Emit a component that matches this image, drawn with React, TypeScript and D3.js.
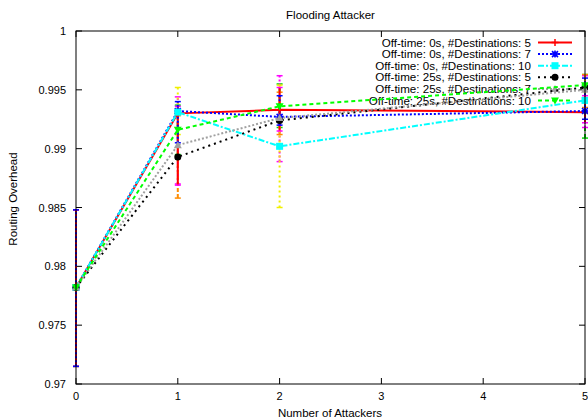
import React from "react";
import * as d3 from "d3";

const xValues = [0, 1, 2, 5];
const seriesNames = [
  "Off-time: 0s, #Destinations: 5",
  "Off-time: 0s, #Destinations: 7",
  "Off-time: 0s, #Destinations: 10",
  "Off-time: 25s, #Destinations: 5",
  "Off-time: 25s, #Destinations: 7",
  "Off-time: 25s, #Destinations: 10",
];
const s0 = [0.9782, 0.9930, 0.9933, 0.9931];
const s1 = [0.9782, 0.9932, 0.9927, 0.9932];
const s2 = [0.9782, 0.9931, 0.9902, 0.9941];
const s3 = [0.9782, 0.9893, 0.9924, 0.9952];
const s4 = [0.9782, 0.9903, 0.9926, 0.9950];
const s5 = [0.9782, 0.9916, 0.9936, 0.9954];

const low0 = [0.9715, 0.9869, 0.9915, 0.9922];
const low1 = [0.9715, 0.9905, 0.9920, 0.9925];
const low2 = [0.9715, 0.9912, 0.9850, 0.9930];
const low3 = [0.9715, 0.9858, 0.9912, 0.9935];
const low4 = [0.9715, 0.9870, 0.9889, 0.9918];
const low5 = [0.9715, 0.9895, 0.9918, 0.9909];
const high0 = [0.9848, 0.9936, 0.9952, 0.9945];
const high1 = [0.9848, 0.9940, 0.9945, 0.9960];
const high2 = [0.9848, 0.9952, 0.9954, 0.9955];
const high3 = [0.9848, 0.9928, 0.9948, 0.9963];
const high4 = [0.9848, 0.9944, 0.9962, 0.9962];
const high5 = [0.9848, 0.9937, 0.9955, 0.9963];

const xTicks = [0, 1, 2, 3, 4, 5];
const yTicks = [0.97, 0.975, 0.98, 0.985, 0.99, 0.995, 1];
const yTickLabels = ["0.97", "0.975", "0.98", "0.985", "0.99", "0.995", "1"];

const values = [s0, s1, s2, s3, s4, s5];
const lows = [low0, low1, low2, low3, low4, low5];
const highs = [high0, high1, high2, high3, high4, high5];
const errOrder = [5, 4, 3, 2, 0, 1];

const styles = [
  { color: "#ff0000", dash: "", marker: "plus", err: "#ff0000", errDash: "", cap: "#ff00ff" },
  { color: "#0000ff", dash: "2,2", marker: "star", err: "#0000ff", errDash: "2,2", cap: "#0000ff" },
  { color: "#00ffff", dash: "6,2,2,2", marker: "square", err: "#f0f000", errDash: "2,3", cap: "#f0f000" },
  { color: "#000000", dash: "2,4", marker: "circle", err: "#ff8c00", errDash: "4,2", cap: "#ff8c00" },
  { color: "#a0a0a0", dash: "2,2", marker: "triUp", err: "#ff00ff", errDash: "2,2", cap: "#ff00ff" },
  { color: "#00ff00", dash: "4,3", marker: "triDown", err: "#00e000", errDash: "4,3", cap: "#00e000" },
];

const W = 588, H = 420;
const L = 76, R = 585, T = 31, B = 384;
const FONT = "'Liberation Sans', Arial, sans-serif";

function Marker({ type, x, y, color }: { type: string; x: number; y: number; color: string }) {
  const s = 3.5;
  switch (type) {
    case "plus":
      return <path d={`M${x - s},${y}H${x + s}M${x},${y - s}V${y + s}`} stroke={color} strokeWidth={1.5} />;
    case "star":
      return (
        <g>
          <path d={`M${x - s},${y}H${x + s}M${x},${y - s}V${y + s}M${x - 3},${y - 3}L${x + 3},${y + 3}M${x - 3},${y + 3}L${x + 3},${y - 3}`} stroke={color} strokeWidth={1.5} />
          <circle cx={x} cy={y} r={2.5} fill={color} />
        </g>
      );
    case "square":
      return <rect x={x - 3.5} y={y - 3.5} width={7} height={7} fill={color} />;
    case "circle":
      return <circle cx={x} cy={y} r={3.5} fill={color} />;
    case "triUp":
      return <path d={`M${x},${y - 4}L${x + 4},${y + 3}L${x - 4},${y + 3}Z`} fill={color} />;
    case "triDown":
      return <path d={`M${x},${y + 4}L${x + 4},${y - 3}L${x - 4},${y - 3}Z`} fill={color} />;
  }
  return null;
}

export default function App() {
  const x = d3.scaleLinear().domain([0, 5]).range([L, R]);
  const y = d3.scaleLinear().domain([0.97, 1]).range([B, T]);
  const line = d3.line<number>().x((_, i) => x(xValues[i])).y((d) => y(d));

  const legendX1 = 538, legendX2 = 572, legendTextX = 531, legendY0 = 42.5, legendDy = 11.6;

  return (
    <svg width={W} height={H} style={{ position: "absolute", left: 0, top: 0, background: "#fff" }} fontFamily={FONT}>
      <rect x={0} y={0} width={W} height={H} fill="#fff" />
      {/* title */}
      <text x={(L + R) / 2} y={19} textAnchor="middle" fontSize={11.5} fill="#000">Flooding Attacker</text>
      {/* ticks */}
      {xTicks.map((t) => (
        <g key={"xt" + t}>
          <line x1={x(t)} x2={x(t)} y1={B} y2={B - 6} stroke="#000" />
          <line x1={x(t)} x2={x(t)} y1={T} y2={T + 6} stroke="#000" />
          <text x={x(t)} y={400} textAnchor="middle" fontSize={11} fill="#000">{t}</text>
        </g>
      ))}
      {yTicks.map((t, i) => (
        <g key={"yt" + t}>
          <line x1={L} x2={L + 6} y1={y(t)} y2={y(t)} stroke="#000" />
          <line x1={R} x2={R - 6} y1={y(t)} y2={y(t)} stroke="#000" />
          <text x={66} y={y(t) + 4} textAnchor="end" fontSize={11} fill="#000">{yTickLabels[i]}</text>
        </g>
      ))}
      <text x={330} y={417} textAnchor="middle" fontSize={11.5} fill="#000">Number of Attackers</text>
      <text transform="translate(17,199) rotate(-90)" textAnchor="middle" fontSize={11.5} fill="#000">Routing Overhead</text>
      {/* legend */}
      {seriesNames.map((n, i) => {
        const ly = legendY0 + i * legendDy;
        const st = styles[i];
        return (
          <g key={"lg" + i}>
            <text x={legendTextX} y={ly + 4} textAnchor="end" fontSize={11.6} fill="#000">{n}</text>
            <line x1={legendX1} x2={legendX2} y1={ly} y2={ly} stroke={st.color} strokeWidth={2} strokeDasharray={st.dash} />
            <Marker type={st.marker} x={(legendX1 + legendX2) / 2} y={ly} color={st.color} />
          </g>
        );
      })}
      {/* error bars */}
      {errOrder.map((si) => (
        <g key={"eb" + si}>
          {values[si].map((v, i) => {
            const cx = x(xValues[i]);
            const st = styles[si];
            return (
              <g key={i}>
                <line x1={cx} x2={cx} y1={y(lows[si][i])} y2={y(highs[si][i])} stroke={st.err} strokeWidth={2} strokeDasharray={st.errDash} />
                <line x1={cx - 3} x2={cx + 3} y1={y(lows[si][i])} y2={y(lows[si][i])} stroke={st.cap} strokeWidth={1.5} />
                <line x1={cx - 3} x2={cx + 3} y1={y(highs[si][i])} y2={y(highs[si][i])} stroke={st.cap} strokeWidth={1.5} />
              </g>
            );
          })}
        </g>
      ))}
      {/* lines */}
      {values.map((vals, si) => (
        <g key={"ln" + si}>
          <path d={line(vals) || ""} fill="none" stroke={styles[si].color} strokeWidth={2} strokeDasharray={styles[si].dash} />
          {vals.map((v, i) => (
            <Marker key={i} type={styles[si].marker} x={x(xValues[i])} y={y(v)} color={styles[si].color} />
          ))}
        </g>
      ))}
      {/* border */}
      <rect x={L} y={T} width={R - L} height={B - T} fill="none" stroke="#000" strokeWidth={1} />
    </svg>
  );
}
